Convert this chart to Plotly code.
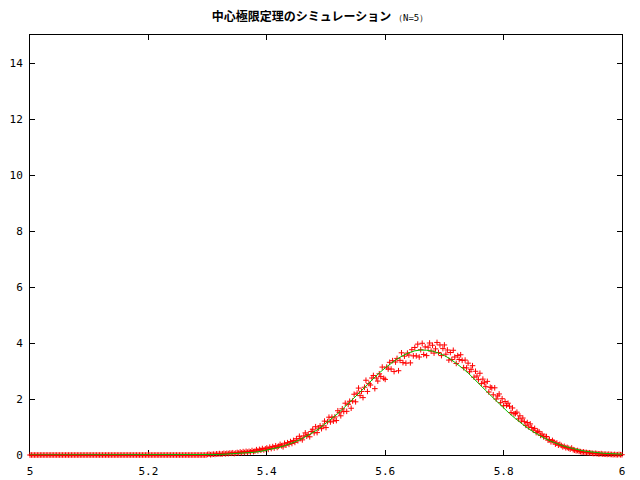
import numpy as np
import plotly.graph_objects as go

# ---- data ----
x_min, x_max = 5.0, 6.0
# simulated histogram density (bin step 0.0025 from 5.0 to 6.0)
sim_zero = [0.0] * 120  # 5.0000 .. 5.2975
sim_vals = [
    0.02, 0.03, 0.01, 0.02,  0.03, 0.02, 0.04, 0.03,  0.05, 0.03, 0.04, 0.06,
    0.04, 0.06, 0.05, 0.07,  0.06, 0.08, 0.05, 0.07,  0.09, 0.07, 0.11, 0.08,
    0.12, 0.09, 0.13, 0.10,  0.13, 0.11, 0.16, 0.12,  0.14, 0.19, 0.15, 0.20,
    0.17, 0.23, 0.18, 0.22,  0.25, 0.20, 0.28, 0.23,  0.30, 0.25, 0.33, 0.27,
    0.31, 0.38, 0.33, 0.29,  0.42, 0.35, 0.44, 0.38,  0.48, 0.41, 0.52, 0.45,
    0.58, 0.51, 0.67, 0.59,  0.54, 0.68, 0.79, 0.67,  0.73, 0.65, 0.84, 0.92,
    0.79, 1.01, 0.80, 0.96,  1.04, 0.94, 1.04, 1.21,  0.98, 1.19, 1.35, 1.18,
    1.35, 1.21, 1.36, 1.23,  1.58, 1.51, 1.40, 1.65,  1.55, 1.85, 1.56, 1.81,
    1.92, 1.67, 1.93, 2.17,  1.90, 2.21, 2.39, 2.12,  2.27, 2.05, 2.42, 2.67,
    2.27, 2.55, 2.50, 2.75,  2.84, 2.37, 2.75, 2.64,  2.90, 2.80, 3.14, 2.74,
    2.70, 3.14, 3.07, 3.31,  3.07, 3.37, 2.98, 3.32,  3.45, 3.01, 3.38, 3.65,
    3.30, 3.53, 3.28, 3.64,  3.57, 3.29, 3.76, 3.54,  3.84, 3.54, 3.96, 3.50,
    3.76, 3.99, 3.59, 3.86,  3.55, 3.85, 4.00, 3.71,  3.92, 3.64, 3.79, 4.02,
    3.66, 3.93, 3.55, 3.80,  3.93, 3.60, 3.75, 3.39,  3.66, 3.41, 3.74, 3.50,
    3.27, 3.55, 3.41, 3.58,  3.38, 3.12, 3.39, 3.11,  3.28, 2.97, 3.06, 3.19,
    2.78, 2.99, 2.82, 2.69,  2.92, 2.55, 2.71, 2.58,  2.44, 2.63, 2.25, 2.42,
    2.40, 2.15, 2.40, 2.00,  2.11, 2.18, 1.87, 2.01,  1.76, 1.91, 1.77, 1.85,
    1.74, 1.52, 1.68, 1.47,  1.48, 1.53, 1.29, 1.40,  1.21, 1.32, 1.19, 1.06,
    1.16, 1.00, 1.11, 0.98,  0.89, 0.95, 0.80, 0.85,  0.83, 0.70, 0.75, 0.65,
    0.66, 0.66, 0.53, 0.55,  0.47, 0.52, 0.47, 0.39,  0.43, 0.35, 0.38, 0.34,
    0.29, 0.31, 0.26, 0.27,  0.24, 0.21, 0.25, 0.19,  0.17, 0.15, 0.16, 0.13,
    0.12, 0.10, 0.11, 0.09,  0.09, 0.08, 0.08, 0.07,  0.06, 0.05, 0.06, 0.05,
    0.04, 0.04, 0.05, 0.03,  0.03, 0.03, 0.02, 0.03,  0.02, 0.02, 0.01, 0.02,
    0.01, 0.01, 0.02, 0.01,  0.01,
]
sim_y = sim_zero + sim_vals
sim_x = np.linspace(x_min, x_max, len(sim_y))

# theoretical normal density (step 0.01 from 5.0 to 6.0)
norm_zero = [0.0] * 25  # 5.00 .. 5.24
norm_vals = [
    0.002, 0.003, 0.005, 0.007, 0.01, 0.01, 0.015, 0.02, 0.03, 0.04,
    0.05, 0.06, 0.08, 0.10, 0.13, 0.17, 0.21, 0.27, 0.33, 0.40,
    0.49, 0.59, 0.70, 0.83, 0.97, 1.13, 1.30, 1.48, 1.68, 1.88,
    2.09, 2.30, 2.52, 2.73, 2.93, 3.11, 3.28, 3.43, 3.55, 3.65,
    3.72, 3.75, 3.74, 3.71, 3.64, 3.55, 3.43, 3.28, 3.11, 2.93,
    2.73, 2.52, 2.30, 2.09, 1.88, 1.68, 1.48, 1.30, 1.13, 0.97,
    0.83, 0.70, 0.59, 0.49, 0.40, 0.33, 0.27, 0.21, 0.17, 0.13,
    0.10, 0.08, 0.06, 0.05, 0.04, 0.03,
]
norm_y = norm_zero + norm_vals
norm_x = np.linspace(x_min, x_max, len(norm_y))

x_ticks = [5.0, 5.2, 5.4, 5.6, 5.8, 6.0]
x_tick_labels = ["5", "5.2", "5.4", "5.6", "5.8", "6"]
y_ticks = [0, 2, 4, 6, 8, 10, 12, 14]

title_main = "中心極限定理のシミュレーション"
title_sub = "（N=5）"

# ---- figure ----
fig = go.Figure()
fig.add_trace(go.Scatter(
    x=sim_x, y=sim_y, mode="markers", cliponaxis=False,
    marker=dict(symbol="cross-thin", size=4, color="#ff0000",
                line=dict(color="#ff0000", width=1)),
    showlegend=False,
))
fig.add_trace(go.Scatter(
    x=norm_x, y=norm_y, mode="lines", cliponaxis=False,
    line=dict(color="#00c000", width=1),
    showlegend=False,
))

axis_common = dict(
    showline=True, linecolor="black", linewidth=1, mirror="ticks",
    ticks="inside", ticklen=5, tickcolor="black", tickwidth=1,
    showgrid=False, zeroline=False, layer="below traces", automargin=False,
    tickfont=dict(family="DejaVu Sans Mono", size=11, color="black"),
)
fig.update_xaxes(range=[x_min, x_max], tickvals=x_ticks, ticktext=x_tick_labels,
                 ticklabelstandoff=6, **axis_common)
fig.update_yaxes(range=[0, 15], tickvals=y_ticks, ticklabelstandoff=4, **axis_common)

fig.update_layout(
    width=640, height=480,
    margin=dict(l=30, r=18, t=35, b=25, autoexpand=False),
    paper_bgcolor="white", plot_bgcolor="white",
    title=dict(
        text=(f"<b>{title_main}</b> <span style='font-size:9px;"
              f"font-family:DejaVu Sans Mono'>{title_sub}</span>"),
        x=0.5, xanchor="center", y=1 - 17 / 480, yanchor="middle",
        font=dict(family="Noto Sans CJK JP", size=12, color="black"),
    ),
)

fig.write_html("out.html")
